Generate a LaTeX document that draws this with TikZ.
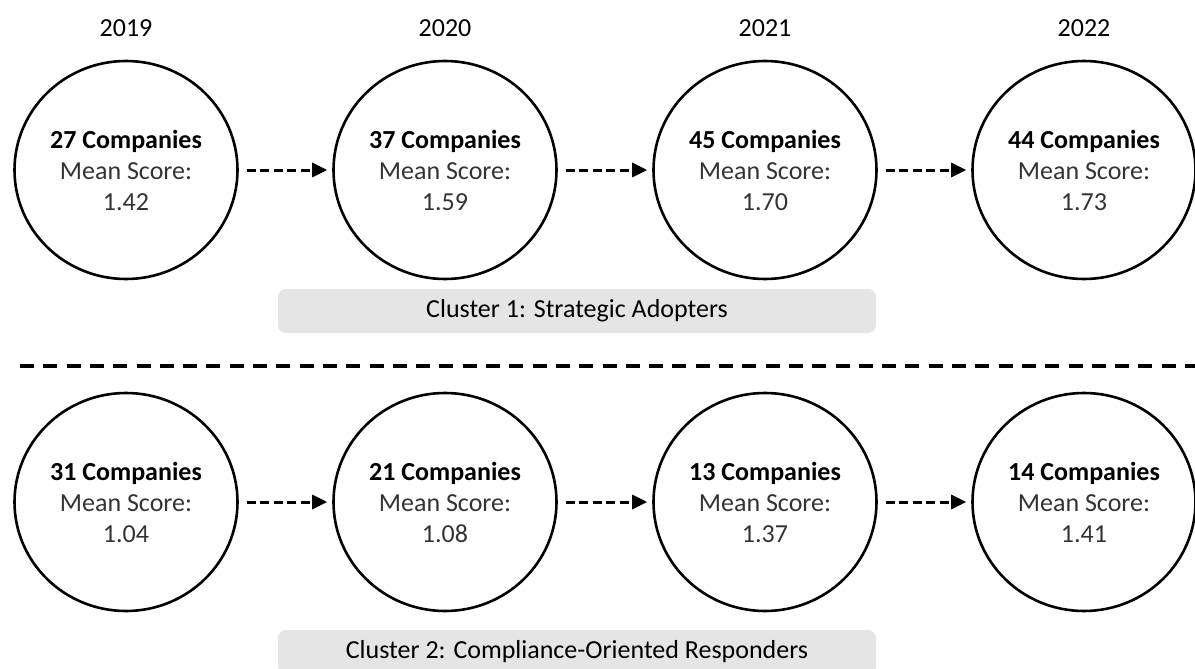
\documentclass[tikz,border=0pt]{standalone}
\usepackage{fontspec}
\setmainfont{Carlito}
\usetikzlibrary{arrows.meta,shapes.geometric}

\newcommand{\firms}[1]{\textcolor{black}{\bfseries #1 Companies}}

\begin{document}
\begin{tikzpicture}[x=1pt,y=-1pt,
	every node/.style={font=\fontsize{26}{31}\selectfont},
	yearlabel/.style={inner sep=0pt},
	cohort/.style={ellipse,draw,line width=2.6pt,minimum width=223pt,minimum height=218pt,inner sep=0pt,align=center,text=black!80},
	flow/.style={line width=3pt,dash pattern=on 9pt off 4.5pt,-{Triangle[length=15pt,width=14pt]}},
	band/.style={fill=black!10,rounded corners=8pt,minimum width=598pt,minimum height=44pt,inner sep=0pt}]
	\useasboundingbox (0,0) rectangle (1195,669);

	% years
	\node[yearlabel] (y19) at (126,28) {2019};
	\node[yearlabel] (y20) at (445,28) {2020};
	\node[yearlabel] (y21) at (765,28) {2021};
	\node[yearlabel] (y22) at (1084,28) {2022};

	% cluster 1
	\node[cohort] (a1) at (126,170) {\firms{27}\\ Mean Score:\\ 1.42};
	\node[cohort] (a2) at (445,170) {\firms{37}\\ Mean Score:\\ 1.59};
	\node[cohort] (a3) at (765,170) {\firms{45}\\ Mean Score:\\ 1.70};
	\node[cohort] (a4) at (1084,170) {\firms{44}\\ Mean Score:\\ 1.73};
	\draw[flow] ([xshift=8pt]a1.east) -- ([xshift=-5pt]a2.west);
	\draw[flow] ([xshift=8pt]a2.east) -- ([xshift=-5pt]a3.west);
	\draw[flow] ([xshift=8pt]a3.east) -- ([xshift=-5pt]a4.west);
	\node[band] (c1) at (577,311) {Cluster 1: Strategic Adopters};

	% split between the two clusters
	\draw[line width=3.5pt,dash pattern=on 14pt off 9.3pt] (20,366) -- (1195,366);

	% cluster 2
	\node[cohort] (b1) at (126,502) {\firms{31}\\ Mean Score:\\ 1.04};
	\node[cohort] (b2) at (445,502) {\firms{21}\\ Mean Score:\\ 1.08};
	\node[cohort] (b3) at (765,502) {\firms{13}\\ Mean Score:\\ 1.37};
	\node[cohort] (b4) at (1084,502) {\firms{14}\\ Mean Score:\\ 1.41};
	\draw[flow] ([xshift=8pt]b1.east) -- ([xshift=-5pt]b2.west);
	\draw[flow] ([xshift=8pt]b2.east) -- ([xshift=-5pt]b3.west);
	\draw[flow] ([xshift=8pt]b3.east) -- ([xshift=-5pt]b4.west);
	\node[band] (c2) at (577,652) {Cluster 2: Compliance-Oriented Responders};
\end{tikzpicture}
\end{document}
